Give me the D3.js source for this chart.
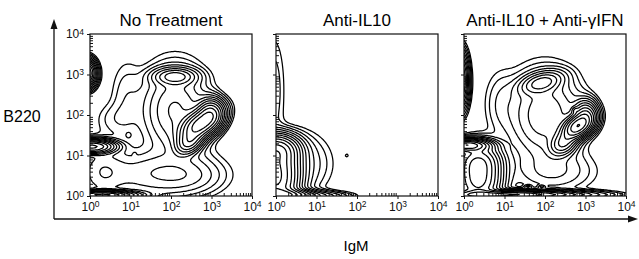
<!DOCTYPE html>
<html lang="en">
<head>
<meta charset="UTF-8">
<title>B220 vs IgM</title>
<script src="https://d3js.org/d3.v7.min.js"></script>
<style>
  body { margin: 0; background: #fff; }
  svg { font-family: "Liberation Sans", Arial, sans-serif; }
  .frame { fill: none; stroke: #111; stroke-width: 1.2; }
  .contour { fill: none; stroke: #000; stroke-width: 1.25; stroke-linejoin: round; }
  .axis path { display: none; }
  .axis line { stroke: #111; stroke-width: 1; }
</style>
</head>
<body>
<div id="chart"></div>
<script>
var panelTitles = ["No Treatment", "Anti-IL10", "Anti-IL10 + Anti-\u03b3IFN"];
var decades = [1, 10, 100, 1000, 10000];
var minorTicks = [2, 3, 4, 5, 6, 7, 8, 9, 20, 30, 40, 50, 60, 70, 80, 90,
                  200, 300, 400, 500, 600, 700, 800, 900, 2000, 3000, 4000, 5000, 6000, 7000, 8000, 9000];

// cell populations:
// [log10 IgM, log10 B220, spread IgM, spread B220, tilt (deg), weight]
var noTreatment = [
    [2.72, 1.77, 0.30, 0.17, 35, 0.55],
    [2.98, 2.05, 0.17, 0.20, 0, 0.25],
    [2.45, 1.32, 0.20, 0.14, 35, 0.22],
    [2.10, 2.10, 0.45, 0.60, 0, 0.08],
    [2.10, 2.95, 0.30, 0.12, 0, 0.12],
    [-0.08, 3.03, 0.12, 0.17, 0, 0.50],
    [0.05, 1.22, 0.30, 0.09, 0, 0.50],
    [0.30, 0.02, 0.45, 0.06, 0, 0.70],
    [1.60, 0.55, 0.80, 0.35, 0, 0.045],
    [2.40, 0.50, 0.50, 0.25, 0, 0.020],
    [0.30, 0.60, 0.35, 0.40, 0, 0.04],
    [0.60, 1.90, 0.30, 0.25, 0, 0.008],
    [0.90, 2.40, 0.25, 0.60, 0, 0.010],
    [0.95, 1.50, 0.05, 0.05, 0, 0.010],
    [1.10, 1.04, 0.03, 0.03, 0, 0.010]
];
var antiIL10 = [
    [0.00, 0.25, 0.30, 0.30, 0, 0.50],
    [0.00, 0.75, 0.30, 0.30, 0, 0.50],
    [0.00, 1.15, 0.30, 0.20, 0, 0.40],
    [0.10, 0.02, 0.40, 0.08, 0, 0.60],
    [0.90, 0.00, 0.50, 0.07, 0, 0.05],
    [0.60, 0.80, 0.45, 0.45, 0, 0.020],
    [-0.05, 2.60, 0.18, 0.90, 0, 0.010],
    [1.75, 1.00, 0.035, 0.035, 0, 0.0055]
];
var antiIL10IFN = [
    [2.80, 1.72, 0.22, 0.14, 35, 0.60],
    [3.00, 2.00, 0.16, 0.20, 0, 0.20],
    [2.74, 2.12, 0.05, 0.05, 0, 0.05],
    [2.45, 1.30, 0.20, 0.15, 35, 0.15],
    [2.00, 2.00, 0.50, 0.60, 0, 0.07],
    [1.92, 2.80, 0.30, 0.14, 15, 0.12],
    [-0.08, 2.85, 0.10, 0.35, 0, 0.30],
    [0.05, 1.25, 0.30, 0.08, 0, 0.60],
    [0.35, 0.35, 0.30, 0.30, 0, 0.35],
    [0.35, 0.85, 0.30, 0.25, 0, 0.30],
    [1.00, 0.03, 1.00, 0.06, 0, 0.50],
    [1.58, 0.23, 0.06, 0.025, 0, 0.03],
    [1.92, 0.23, 0.06, 0.025, 0, 0.03],
    [2.20, 0.60, 0.60, 0.30, 0, 0.02],
    [0.90, 2.30, 0.25, 0.50, 0, 0.010]
];
var levels = [0.004, 0.007, 0.012, 0.02, 0.032, 0.05, 0.075, 0.11, 0.16, 0.23, 0.33, 0.47, 0.65];

var panels = [noTreatment, antiIL10, antiIL10IFN];

var width = 639, height = 259;
var size = 162, top0 = 34;
var lefts = [90, 276, 464];

var svg = d3.select("#chart").append("svg")
    .attr("width", width)
    .attr("height", height);

// outer axis arrows
svg.append("line")
    .attr("x1", 54).attr("x2", 54).attr("y1", 26).attr("y2", 219)
    .attr("stroke", "#111").attr("stroke-width", 1.3);
svg.append("path")
    .attr("d", "M54,19 L50.5,29 L57.5,29 Z")
    .attr("fill", "#111");
svg.append("line")
    .attr("x1", 54).attr("x2", 631).attr("y1", 219).attr("y2", 219)
    .attr("stroke", "#111").attr("stroke-width", 1.3);
svg.append("path")
    .attr("d", "M638,219 L628,215.5 L628,222.5 Z")
    .attr("fill", "#111");

svg.append("text")
    .attr("x", 22).attr("y", 122)
    .attr("text-anchor", "middle")
    .style("font-size", "16px")
    .text("B220");
svg.append("text")
    .attr("x", 356).attr("y", 251)
    .attr("text-anchor", "middle")
    .style("font-size", "15px")
    .text("IgM");

var lo = -0.15, hi = 4.15, n = 130;
var step = (hi - lo) / n;

function density(pops) {
    var values = new Array(n * n);
    for (var j = 0; j < n; j++) {
        for (var i = 0; i < n; i++) {
            var lx = lo + (i + 0.5) * step, ly = lo + (j + 0.5) * step;
            var v = 0;
            pops.forEach(function(p) {
                var a = p[4] * Math.PI / 180;
                var dx = lx - p[0], dy = ly - p[1];
                var u = dx * Math.cos(a) + dy * Math.sin(a);
                var w = -dx * Math.sin(a) + dy * Math.cos(a);
                v += p[5] * Math.exp(-0.5 * (u * u / (p[2] * p[2]) + w * w / (p[3] * p[3])));
            });
            values[j * n + i] = v;
        }
    }
    return values;
}

function supLabel(sel) {
    sel.each(function(d) {
        var t = d3.select(this);
        t.text(null);
        t.append("tspan").text("10");
        t.append("tspan")
            .attr("dy", "-0.45em")
            .style("font-size", "8.5px")
            .text(Math.round(Math.log10(d)));
    });
}

panels.forEach(function(pops, k) {
    var left = lefts[k];
    var x = d3.scaleLog().domain([1, 1e4]).range([left, left + size]);
    var y = d3.scaleLog().domain([1, 1e4]).range([top0 + size, top0]);
    var g = svg.append("g");

    g.append("clipPath").attr("id", "clip" + k)
        .append("rect")
        .attr("x", left).attr("y", top0)
        .attr("width", size).attr("height", size);

    var proj = d3.geoTransform({
        point: function(gx, gy) {
            this.stream.point(x(Math.pow(10, lo + gx * step)), y(Math.pow(10, lo + gy * step)));
        }
    });
    var path = d3.geoPath(proj);
    var contours = d3.contours().size([n, n]).thresholds(levels)(density(pops));

    g.append("g")
        .attr("clip-path", "url(#clip" + k + ")")
        .selectAll("path")
        .data(contours)
        .enter().append("path")
        .attr("class", "contour")
        .attr("d", path);

    g.append("rect")
        .attr("class", "frame")
        .attr("x", left).attr("y", top0)
        .attr("width", size).attr("height", size);

    // minor ticks inward
    g.append("g").attr("class", "axis")
        .attr("transform", "translate(0," + (top0 + size) + ")")
        .call(d3.axisBottom(x).tickValues(minorTicks).tickSize(-3).tickFormat(""));
    g.append("g").attr("class", "axis")
        .attr("transform", "translate(" + left + ",0)")
        .call(d3.axisLeft(y).tickValues(minorTicks).tickSize(-3).tickFormat(""));

    // major ticks with labels
    var xa = g.append("g").attr("class", "axis")
        .attr("transform", "translate(0," + (top0 + size) + ")")
        .call(d3.axisBottom(x).tickValues(decades).tickSize(3).tickPadding(3));
    xa.selectAll("text").style("font-size", "12px").attr("fill", "#111").call(supLabel);

    var ya = g.append("g").attr("class", "axis")
        .attr("transform", "translate(" + left + ",0)")
        .call(d3.axisLeft(y).tickValues(decades).tickSize(3).tickPadding(3));
    if (k === 0) {
        ya.selectAll("text").style("font-size", "12px").attr("fill", "#111").call(supLabel);
    } else {
        ya.selectAll("text").remove();
    }

    g.append("text")
        .attr("x", left + size / 2).attr("y", 26)
        .attr("text-anchor", "middle")
        .style("font-size", "17px")
        .text(panelTitles[k]);
});
</script>
</body>
</html>
